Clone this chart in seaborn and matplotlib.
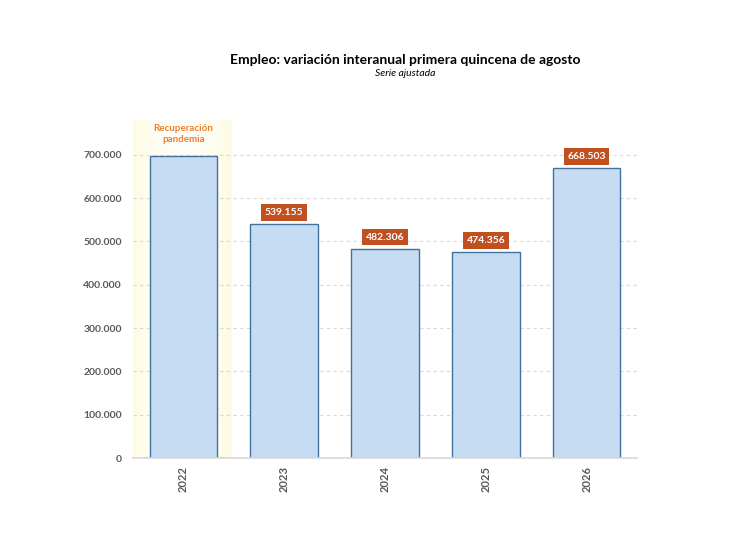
import matplotlib
matplotlib.use("Agg")
import matplotlib.pyplot as plt
import seaborn as sns
import pandas as pd
import numpy as np
from matplotlib.colors import LinearSegmentedColormap

years = ["2022", "2023", "2024", "2025", "2026"]
values = [696500, 539155, 482306, 474356, 668503]
labels = [None, "539.155", "482.306", "474.356", "668.503"]
yticks = [0, 100000, 200000, 300000, 400000, 500000, 600000, 700000]
ytick_labels = ["0", "100.000", "200.000", "300.000", "400.000", "500.000", "600.000", "700.000"]
title = "Empleo: variación interanual primera quincena de agosto"
subtitle = "Serie ajustada"
note = "Recuperación\npandemia"

sns.set_theme(style="white")
plt.rcParams['font.family'] = ['Lato', 'DejaVu Sans']

df = pd.DataFrame({"year": years, "value": values})

fig = plt.figure(figsize=(7.32, 5.44), dpi=100)
ax = fig.add_axes([133/732, 1-458/544, (637-133)/732, (458-120)/544])

# shaded highlight for 2022 (gradient: yellow edges, lighter centre)
grad = np.abs(np.linspace(-1, 1, 200))[None, :] ** 1.5
cmap = LinearSegmentedColormap.from_list("y", ["#FFFFFB", "#FEFBE3"])
ax.imshow(grad, extent=(-0.5, 0.48, 0, 780000), aspect="auto", cmap=cmap, zorder=0)

sns.barplot(data=df, x="year", y="value", ax=ax, color="#C6DCF2",
            edgecolor="#41719C", linewidth=1.0, width=0.67, saturation=1, zorder=2)

ax.set_xlim(-0.5, 4.5)
ax.set_ylim(0, 780000)
ax.set_yticks(yticks)
ax.set_yticklabels(ytick_labels)
ax.set_xlabel("")
ax.set_ylabel("")
ax.yaxis.grid(True, linestyle=(0, (3, 3)), color="#D9D9D9", linewidth=0.8, zorder=1)
ax.set_axisbelow(True)
for s in ["left", "right", "top"]:
    ax.spines[s].set_visible(False)
ax.spines["bottom"].set_color("#D9D9D9")
ax.tick_params(axis="both", length=0)
for t in ax.get_yticklabels():
    t.set_fontsize(7.5); t.set_fontweight("bold"); t.set_color("#595959")
for t in ax.get_xticklabels():
    t.set_fontsize(8); t.set_fontweight("bold"); t.set_color("#595959"); t.set_rotation(90)
ax.tick_params(axis="x", pad=6)
ax.tick_params(axis="y", pad=8)

for i, (v, lab) in enumerate(zip(values, labels)):
    if lab:
        ax.annotate(lab, (i, v), xytext=(0, 8.5), textcoords="offset points",
                    ha="center", va="center", fontsize=7.5, fontweight="bold", color="white",
                    bbox=dict(boxstyle="square,pad=0.35", fc="#C0501F", ec="none"), zorder=5)

ax.text(0, 747000, note, ha="center", va="center", fontsize=7, fontweight="bold",
        color="#F07F2E", linespacing=1.3, zorder=5)

fig.text(405/732, 1-60/544, title, ha="center", va="center", fontsize=10, fontweight="bold", color="black")
fig.text(405/732, 1-74/544, subtitle, ha="center", va="center", fontsize=7.5, style="italic", color="black")

fig.savefig("out.png", dpi=100)
